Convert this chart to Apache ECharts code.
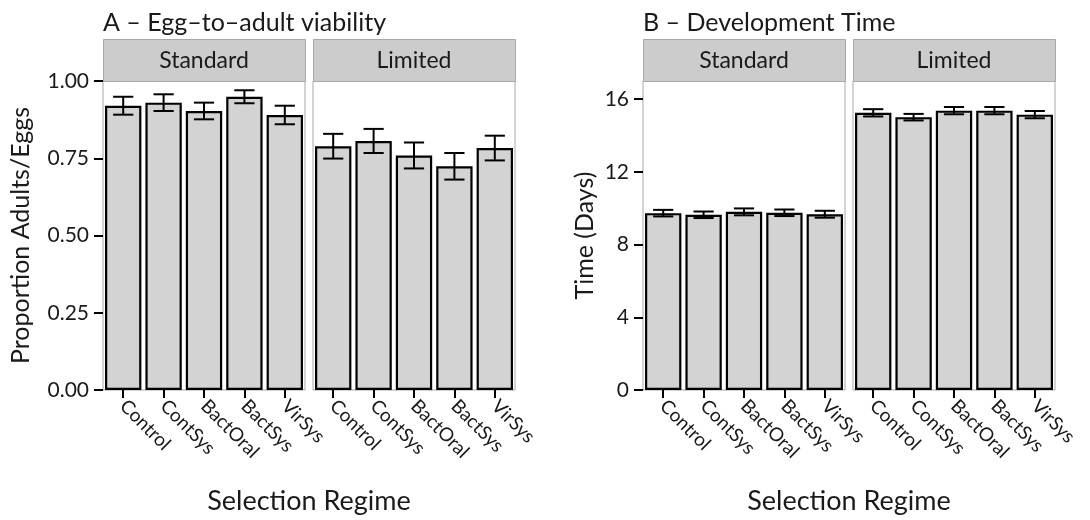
<!DOCTYPE html>
<html>
<head>
<meta charset="utf-8">
<script src="https://cdn.jsdelivr.net/npm/echarts@6/dist/echarts.min.js"></script>
<style>
  html, body { margin: 0; padding: 0; background: #fff; }
  #chart { width: 1090px; height: 520px; }
</style>
</head>
<body>
<div id="chart"></div>
<script>
  // categories
  const regimes = ['Control', 'ContSys', 'BactOral', 'BactSys', 'VirSys']
  const panels = ['Standard', 'Limited']

  // A - viability (mean and standard error)
  const viabStdMean = [0.920, 0.930, 0.903, 0.949, 0.890]
  const viabStdSE = [0.029, 0.027, 0.027, 0.021, 0.030]
  const viabLimMean = [0.789, 0.806, 0.759, 0.724, 0.783]
  const viabLimSE = [0.040, 0.039, 0.042, 0.043, 0.040]

  // B - development time (days)
  const devStdMean = [9.73, 9.64, 9.80, 9.75, 9.67]
  const devStdSE = [0.18, 0.18, 0.19, 0.18, 0.19]
  const devLimMean = [15.25, 15.01, 15.37, 15.37, 15.15]
  const devLimSE = [0.20, 0.18, 0.20, 0.20, 0.20]

  // tick labels
  const viabTicks = [0, 0.25, 0.5, 0.75, 1.0]
  const devTicks = [0, 4, 8, 12, 16]

  const FONT = 'Lato'
  const TXT = '#1a1a1a'
  const PANEL_TOP = 81
  const PANEL_H = 309
  const PANEL_W = 202
  const lefts = [103, 313, 643, 853]

  let chart = echarts.init(document.getElementById('chart'))

  let grids = []
  let xAxes = []
  let yAxes = []
  let series = []
  let graphics = []

  function errRenderItem (params, api) {
    let x = api.value(0)
    let lo = api.coord([x, api.value(1)])
    let hi = api.coord([x, api.value(2)])
    let half = api.size([1, 0])[0] * 0.25
    let style = {stroke: '#000', lineWidth: 2}
    return {
      type: 'group',
      children: [
        {type: 'line', shape: {x1: hi[0], y1: hi[1], x2: lo[0], y2: lo[1]}, style: style},
        {type: 'line', shape: {x1: hi[0] - half, y1: hi[1], x2: hi[0] + half, y2: hi[1]}, style: style},
        {type: 'line', shape: {x1: lo[0] - half, y1: lo[1], x2: lo[0] + half, y2: lo[1]}, style: style}
      ]
    }
  }

  function addPanel (i, means, ses, yMax, ticks, fmt, showY, yName, nameGap) {
    grids.push({left: lefts[i], top: PANEL_TOP, width: PANEL_W, height: PANEL_H,
      show: true, borderColor: '#a8a8a8', borderWidth: 1, backgroundColor: '#fff'})
    xAxes.push({
      type: 'category', gridIndex: i, data: regimes,
      axisLine: {show: false},
      axisTick: {show: true, alignWithLabel: true, length: 8, lineStyle: {color: '#000', width: 2}},
      axisLabel: {rotate: -45, fontFamily: FONT, fontSize: 19, color: TXT, margin: 13, interval: 0}
    })
    yAxes.push({
      type: 'value', gridIndex: i, min: 0, max: yMax,
      splitLine: {show: false},
      axisLine: {show: false},
      axisTick: {show: showY, length: 9, customValues: ticks, lineStyle: {color: '#000', width: 2}},
      axisLabel: {show: showY, customValues: ticks, formatter: fmt, fontFamily: FONT, fontSize: 21, color: TXT, margin: 14},
      name: showY ? yName : '',
      nameLocation: 'middle',
      nameGap: nameGap,
      nameTextStyle: {fontFamily: FONT, fontSize: 25, color: TXT}
    })
    series.push({
      type: 'bar', xAxisIndex: i, yAxisIndex: i, data: means,
      barCategoryGap: '10%',
      itemStyle: {color: '#d3d3d3', borderColor: '#000', borderWidth: 2.2},
      silent: true
    })
    series.push({
      type: 'custom', xAxisIndex: i, yAxisIndex: i,
      renderItem: errRenderItem,
      data: means.map((m, k) => [k, m - ses[k], m + ses[k]]),
      z: 10, silent: true
    })
    // facet strip
    graphics.push({
      type: 'rect', left: lefts[i], top: 39,
      shape: {width: PANEL_W, height: PANEL_TOP - 39},
      style: {fill: '#cccccc', stroke: '#a8a8a8', lineWidth: 1}
    })
    graphics.push({
      type: 'text', x: lefts[i] + PANEL_W / 2, y: 61,
      style: {text: panels[i % 2], fill: TXT, font: '23px ' + FONT, align: 'center', verticalAlign: 'middle'}
    })
  }

  addPanel(0, viabStdMean, viabStdSE, 1.0, viabTicks, v => v.toFixed(2), true, 'Proportion Adults/Eggs', 70)
  addPanel(1, viabLimMean, viabLimSE, 1.0, viabTicks, v => v.toFixed(2), false, '', 0)
  addPanel(2, devStdMean, devStdSE, 17, devTicks, v => String(v), true, 'Time (Days)', 46)
  addPanel(3, devLimMean, devLimSE, 17, devTicks, v => String(v), false, '', 0)

  // panel titles and shared x-axis titles
  graphics.push({type: 'text', x: 103, y: 23,
    style: {text: 'A – Egg–to–adult viability', fill: TXT, font: '25px ' + FONT, verticalAlign: 'middle'}})
  graphics.push({type: 'text', x: 643, y: 23,
    style: {text: 'B – Development Time', fill: TXT, font: '25px ' + FONT, verticalAlign: 'middle'}})
  graphics.push({type: 'text', x: 309, y: 501,
    style: {text: 'Selection Regime', fill: TXT, font: '27px ' + FONT, align: 'center', verticalAlign: 'middle'}})
  graphics.push({type: 'text', x: 849, y: 501,
    style: {text: 'Selection Regime', fill: TXT, font: '27px ' + FONT, align: 'center', verticalAlign: 'middle'}})

  chart.setOption({
    animation: false,
    grid: grids,
    xAxis: xAxes,
    yAxis: yAxes,
    series: series,
    graphic: graphics
  })
</script>
</body>
</html>
